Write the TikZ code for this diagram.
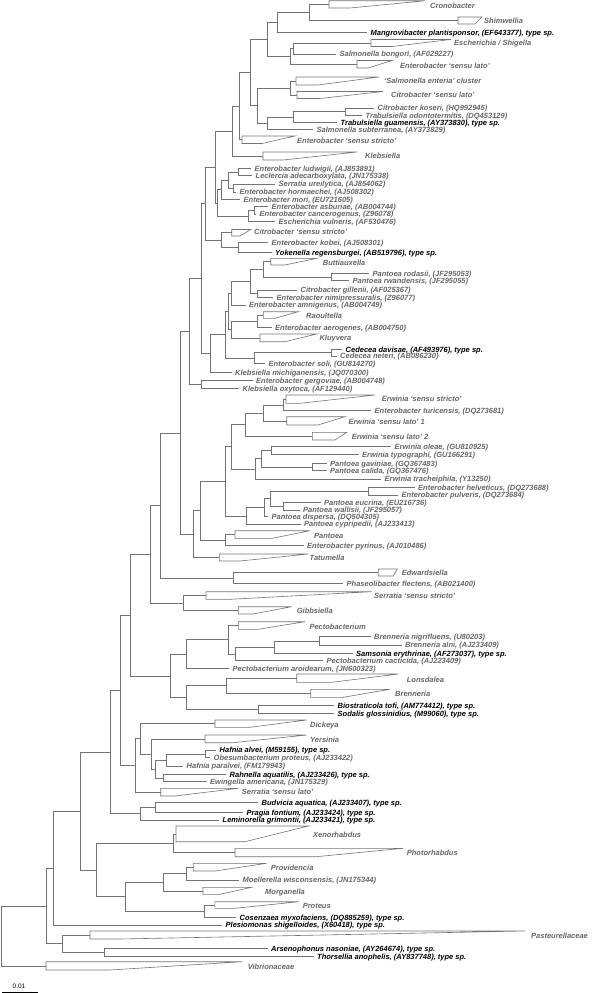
\documentclass[tikz,border=0pt]{standalone}
\usepackage{fontspec}
\setmainfont{Liberation Sans}
\usetikzlibrary{calc}

% leaf: name, tip x, y, style, text
\newcommand\leaf[5]{%
  \coordinate (#1) at (#2,#3);
  \node[#4] (#1-l) at (#2+3.5,#3+0.8) {#5};}
% collapsed clade: name, left x, top y, bottom y, top x, bottom x, label x, label y, text
\newcommand\collapsed[9]{%
  \draw[br] (#2,#3) -- (#5,#3) -- (#6,#4) -- (#2,#4) -- cycle;
  \coordinate (#1) at (#2,{(#3+#4)/2});
  \node[lab] (#1-l) at (#7,#8) {#9};}
% inner node: name, x, upper child, lower child
\newcommand\inode[4]{%
  \path let \p1=($(#3)!0.5!(#4)$) in coordinate (#1) at (#2pt,\y1);
  \draw[br] (#1) |- (#3) (#1) |- (#4);}

\begin{document}
\begin{tikzpicture}[x=1pt, y=-1pt,
  br/.style={draw=black!55, line width=0.6pt},
  lab/.style={anchor=west, inner sep=0pt, text=black!60, text height=5.4pt, text depth=1.5pt,
              font=\fontsize{7.5}{8}\selectfont\bfseries\itshape},
  typ/.style={lab, text=black},
]
\useasboundingbox (0,0) rectangle (593,993);
% Cronobacter ... Klebsiella
\collapsed{cro}{329}{0.8}{8}{425}{350}{430}{6.5}{Cronobacter}
\collapsed{shi}{458}{17}{24}{482}{475}{484}{21.7}{Shimwellia}
\leaf{mang}{367}{32.5}{typ}{Mangrovibacter plantisponsor, (EF643377), type sp.}
\collapsed{esch}{371}{39.5}{46.5}{451}{392}{454}{44}{Escherichia / Shigella}
\leaf{sbon}{336}{54}{lab}{Salmonella bongori, (AF029227)}
\collapsed{esl}{357}{60.5}{68}{392}{368}{400}{66.5}{Enterobacter `sensu lato'}
\collapsed{sent}{296}{77}{85}{379}{318}{384}{81.5}{`Salmonella enteria' cluster}
\collapsed{csl}{297}{91.5}{98.5}{383}{320}{391}{96}{Citrobacter `sensu lato'}
\leaf{ckos}{374}{108}{lab}{Citrobacter koseri, (HQ992945)}
\leaf{trod}{362}{115.3}{lab}{Trabulsiella odontotermitis, (DQ453129)}
\leaf{trgu}{337}{122.7}{typ}{Trabulsiella guamensis, (AY373830), type sp.}
\leaf{ssub}{313}{129.7}{lab}{Salmonella subterranea, (AY373829)}
\collapsed{ess}{242}{136}{143.5}{295}{262}{297}{141.5}{Enterobacter `sensu stricto'}
\collapsed{kleb}{263}{152}{160}{357}{283}{365}{157}{Klebsiella}
\inode{n1}{309}{cro}{shi}
\inode{n2}{277}{n1}{mang}
\inode{e1}{293}{esch}{sbon}
\inode{e2}{290}{e1}{esl}
\inode{n3}{267}{n2}{e2}
\inode{s1}{290}{sent}{csl}
\inode{t1}{345}{ckos}{trod}
\inode{t2}{293}{t1}{trgu}
\inode{t3}{267}{t2}{ssub}
\inode{u1}{257}{s1}{t3}
\inode{v1}{250}{n3}{u1}
\inode{w1}{239}{v1}{ess}
\inode{k1}{232}{w1}{kleb}
% Enterobacter group
\leaf{elud}{251}{168.3}{lab}{Enterobacter ludwigii, (AJ853891)}
\leaf{lecl}{252}{175.7}{lab}{Leclercia adecarboxylata, (JN175338)}
\leaf{sure}{275}{184}{lab}{Serratia ureilytica, (AJ854062)}
\leaf{ehor}{236}{191.8}{lab}{Enterobacter hormaechei, (AJ508302)}
\leaf{emor}{240}{199.3}{lab}{Enterobacter mori, (EU721605)}
\leaf{easb}{268}{206.7}{lab}{Enterobacter asburiae, (AB004744)}
\leaf{ecan}{256}{214}{lab}{Enterobacter cancerogenus, (Z96078)}
\leaf{evul}{275}{221.7}{lab}{Escherichia vulneris, (AF530476)}
\collapsed{css}{231.7}{229.5}{236}{250.7}{240}{254}{232.5}{Citrobacter `sensu stricto'}
\leaf{ekob}{268}{242.7}{lab}{Enterobacter kobei, (AJ508301)}
\leaf{yoke}{271.5}{252.3}{typ}{Yokenella regensburgei, (AB519796), type sp.}
\collapsed{butt}{270.7}{258.3}{265}{316.7}{285}{322.7}{263.5}{Buttiauxella}
\leaf{prod}{369}{273.3}{lab}{Pantoea rodasii, (JF295053)}
\leaf{prwa}{349}{280.7}{lab}{Pantoea rwandensis, (JF295055)}
\leaf{cgil}{297}{290}{lab}{Citrobacter gillenii, (AF025367)}
\leaf{enim}{273}{297.3}{lab}{Enterobacter nimipressuralis, (Z96077)}
\leaf{eamn}{245.5}{305}{lab}{Enterobacter amnigenus, (AB004749)}
\collapsed{raou}{263.3}{311.7}{318.3}{298.3}{275}{306}{316.5}{Raoultella}
\leaf{eaer}{271.5}{327.3}{lab}{Enterobacter aerogenes, (AB004750)}
\collapsed{kluy}{260}{334}{341.7}{316.7}{285}{319.3}{339}{Kluyvera}
\leaf{cdav}{342}{349.3}{typ}{Cedecea davisae, (AF493976), type sp.}
\leaf{cnet}{336.5}{356}{lab}{Cedecea neteri, (AB086230)}
\leaf{esol}{265}{363.3}{lab}{Enterobacter soli, (GU814270)}
\leaf{kmic}{231.5}{372.3}{lab}{Klebsiella michiganensis, (JQ070300)}
\leaf{eger}{252.5}{380.7}{lab}{Enterobacter gergoviae, (AB004748)}
\leaf{koxy}{239}{388.3}{lab}{Klebsiella oxytoca, (AF129440)}
\inode{a1}{238.3}{elud}{lecl}
\inode{a2}{233.3}{sure}{ehor}
\inode{a3}{228.3}{a1}{a2}
\inode{a4}{221.7}{a3}{emor}
\inode{a5}{254}{easb}{ecan}
\inode{a6}{248.3}{a5}{evul}
\inode{a7}{217}{a4}{a6}
\inode{a8}{215}{k1}{a7}
\inode{b1}{238.3}{ekob}{yoke}
\inode{b2}{221.7}{css}{b1}
\inode{c1}{331.7}{prod}{prwa}
\inode{c2}{263.3}{butt}{c1}
\inode{c3}{257.3}{cgil}{enim}
\inode{c4}{250.7}{c2}{c3}
\inode{c5}{231.7}{c4}{eamn}
\inode{d1}{257.3}{raou}{eaer}
\inode{d2}{231.7}{d1}{kluy}
\inode{d6}{228.5}{c5}{d2}
\inode{d3}{331.7}{cdav}{cnet}
\inode{d4}{254}{d3}{esol}
\inode{d5}{225}{d6}{d4}
\inode{f1}{210}{d5}{kmic}
\inode{g1}{205}{a8}{b2}
\inode{g2}{201.7}{g1}{f1}
\inode{h1}{201.7}{eger}{koxy}
\inode{g3}{189.3}{g2}{h1}
% Erwinia / Pantoea
\collapsed{erss}{286}{395}{403.3}{375}{300}{381.7}{400}{Erwinia `sensu stricto'}
\leaf{etur}{371}{410.7}{lab}{Enterobacter turicensis, (DQ273681)}
\collapsed{esl1}{286.7}{416.7}{425}{345}{318}{348.3}{423}{Erwinia `sensu lato' 1}
\collapsed{esl2}{312.3}{432.3}{440}{346.7}{335}{351.7}{437.3}{Erwinia `sensu lato' 2}
\leaf{eole}{391}{446.7}{lab}{Erwinia oleae, (GU810925)}
\leaf{etyp}{358.5}{454.3}{lab}{Erwinia typographi, (GU166291)}
\leaf{pgav}{326.5}{463.3}{lab}{Pantoea gaviniae, (GQ367483)}
\leaf{pcal}{326.5}{470.7}{lab}{Pantoea calida, (GQ367476)}
\leaf{etra}{381}{479}{lab}{Erwinia tracheiphila, (Y13250)}
\leaf{ehel}{414.5}{487.3}{lab}{Enterobacter helveticus, (DQ273688)}
\leaf{epul}{398}{495}{lab}{Enterobacter pulveris, (DQ273684)}
\leaf{peuc}{320.5}{502.7}{lab}{Pantoea eucrina, (EU216736)}
\leaf{pwal}{299.5}{510}{lab}{Pantoea wallisii, (JF295057)}
\leaf{pdis}{268}{516.7}{lab}{Pantoea dispersa, (DQ504305)}
\leaf{pcyp}{300.5}{524}{lab}{Pantoea cypripedii, (AJ233413)}
\collapsed{pant}{235}{530.7}{538.3}{310}{272}{314}{536.5}{Pantoea}
\leaf{epyr}{303.5}{545.7}{lab}{Enterobacter pyrinus, (AJ010486)}
\collapsed{tatu}{219.3}{554}{561}{308.3}{240}{309.5}{559}{Tatumella}
\inode{i1}{283.3}{erss}{etur}
\inode{i2}{263.3}{i1}{esl1}
\inode{i3}{245}{i2}{esl2}
\inode{j1}{271.7}{eole}{etyp}
\inode{j2}{312.7}{pgav}{pcal}
\inode{j3}{261.7}{j1}{j2}
\inode{j4}{255}{j3}{etra}
\inode{j5}{231.7}{i3}{j4}
\inode{l1}{368.3}{ehel}{epul}
\inode{l2}{283.3}{peuc}{pwal}
\inode{l3}{270.7}{l1}{l2}
\inode{l4}{264}{l3}{pdis}
\inode{l5}{246}{l4}{pcyp}
\inode{l6}{225}{j5}{l5}
\inode{m1}{225}{pant}{epyr}
\inode{m2}{200}{l6}{m1}
\inode{m3}{193.3}{m2}{tatu}
% Edwardsiella ... Dickeya
\collapsed{edwa}{378.3}{569}{576}{397.3}{393.3}{401.7}{574}{Edwardsiella}
\leaf{phas}{343}{583.3}{lab}{Phaseolibacter flectens, (AB021400)}
\collapsed{serss}{206}{591.7}{599.3}{371.7}{230}{374}{596.5}{Serratia `sensu stricto'}
\collapsed{gibb}{238.3}{606.7}{614}{291.7}{253}{296.7}{612}{Gibbsiella}
\collapsed{pect}{238.3}{621.7}{629.3}{305}{258}{309.3}{627.5}{Pectobacterium}
\leaf{bnig}{370.5}{636.7}{lab}{Brenneria nigrifluens, (U80203)}
\leaf{baln}{401.5}{645}{lab}{Brenneria alni, (AJ233409)}
\leaf{sams}{352.5}{653.3}{typ}{Samsonia erythrinae, (AF273037), type sp.}
\leaf{pcac}{323}{660.7}{lab}{Pectobacterium cacticida, (AJ223409)}
\leaf{paro}{229}{668.3}{lab}{Pectobacterium aroidearum, (JN600323)}
\collapsed{lons}{296.7}{674}{682.3}{398.3}{331.7}{406.7}{680.5}{Lonsdalea}
\collapsed{bren}{310.7}{689.3}{697.3}{390}{343}{395}{695}{Brenneria}
\leaf{btof}{334}{705.7}{typ}{Biostraticola tofi, (AM774412), type sp.}
\leaf{sglo}{334}{713.3}{typ}{Sodalis glossinidius, (M99060), type sp.}
\collapsed{dick}{215}{720}{727.3}{306.7}{250}{310}{725.5}{Dickeya}
\inode{o1}{233.3}{edwa}{phas}
\inode{o2}{183.3}{serss}{gibb}
\inode{p1}{319.3}{bnig}{baln}
\inode{p2}{274.3}{p1}{sams}
\inode{p3}{235}{p2}{pcac}
\inode{p4}{228.3}{pect}{p3}
\inode{p5}{186.7}{p4}{paro}
\inode{q1}{226}{lons}{bren}
\inode{q2}{258.3}{btof}{sglo}
\inode{q3}{186}{q1}{q2}
% Yersinia ... Vibrionaceae
\collapsed{yers}{205}{735}{742.7}{306.7}{233}{310}{741}{Yersinia}
\leaf{halv}{216}{750}{typ}{Hafnia alvei, (M59155), type sp.}
\leaf{obes}{210}{757.7}{lab}{Obesumbacterium proteus, (AJ233422)}
\leaf{hpar}{183}{766}{lab}{Hafnia paralvei, (FM179943)}
\leaf{rahn}{226}{774.3}{typ}{Rahnella aquatilis, (AJ233426), type sp.}
\leaf{ewin}{206.5}{781.7}{lab}{Ewingella americana, (JN175329)}
\collapsed{sersl}{160.7}{788.3}{796}{238.3}{175}{241.7}{792.5}{Serratia `sensu lato'}
\leaf{budv}{258}{802.7}{typ}{Budvicia aquatica, (AJ233407), type sp.}
\leaf{prag}{243}{812.3}{typ}{Pragia fontium, (AJ233424), type sp.}
\leaf{lemi}{219}{820}{typ}{Leminorella grimontii, (AJ233421), type sp.}
\collapsed{xeno}{176}{826}{841.7}{308.3}{245}{313}{835.5}{Xenorhabdus}
\collapsed{phot}{235}{848.3}{856.7}{403.3}{316}{406.7}{854}{Photorhabdus}
\collapsed{prov}{193.3}{863.3}{871}{266.7}{215}{270.7}{869}{Providencia}
\leaf{moel}{239}{880}{lab}{Moellerella wisconsensis, (JN175344)}
\collapsed{morg}{203}{887.3}{894.3}{251.5}{220}{265}{892.7}{Morganella}
\collapsed{prot}{214.8}{901.7}{908.3}{298.8}{235}{302.6}{906.7}{Proteus}
\leaf{cose}{236}{917.3}{typ}{Cosenzaea myxofaciens, (DQ885259), type sp.}
\leaf{ples}{222}{925}{typ}{Plesiomonas shigelloides, (X60418), type sp.}
\collapsed{past}{90}{931}{939}{525}{120}{531}{936.5}{Pasteurellaceae}
\leaf{arse}{267.5}{948.3}{typ}{Arsenophonus nasoniae, (AY264674), type sp.}
\leaf{thor}{313.5}{956.7}{typ}{Thorsellia anophelis, (AY837748), type sp.}
\collapsed{vibr}{46}{961.7}{970}{242}{110}{247.7}{967.3}{Vibrionaceae}
\inode{r1}{205}{halv}{obes}
\inode{r2}{166.7}{r1}{hpar}
\inode{r3}{163.3}{rahn}{ewin}
\inode{r4}{155}{r2}{r3}
\inode{r5}{151.7}{yers}{r4}
\inode{sb}{155}{budv}{prag}
\inode{x1}{173}{xeno}{phot}
\inode{x2}{186.7}{prov}{moel}
\inode{x3}{163.4}{x2}{morg}
\inode{x4}{204.2}{prot}{cose}
\inode{x5}{124.8}{x3}{x4}
\inode{x6}{96.4}{x1}{x5}
\inode{y1}{104}{arse}{thor}
\inode{y2}{62.4}{past}{y1}
% backbone
\inode{z1}{180}{g3}{m3}
\inode{z2}{160}{z1}{o1}
\inode{z3}{150}{z2}{o2}
\inode{z4}{170}{p5}{q3}
\inode{z5}{130}{z3}{z4}
\inode{z6}{140}{dick}{r5}
\inode{z7}{135}{z6}{sersl}
\inode{z8}{120}{z5}{z7}
\inode{z9}{140}{sb}{lemi}
\inode{z10}{110}{z8}{z9}
\inode{z11}{80}{z10}{x6}
\inode{z12}{53}{z11}{ples}
\inode{z13}{46}{z12}{y2}
\inode{root}{1.5}{z13}{vibr}
% scale bar
\node[font=\fontsize{6.5}{7}\selectfont] (scl) at (19,986) {0.01};
\coordinate (sca) at (2,992);
\coordinate (scb) at (38,992);
\draw[line width=0.6pt] (sca) -- (scb);
\end{tikzpicture}
\end{document}
